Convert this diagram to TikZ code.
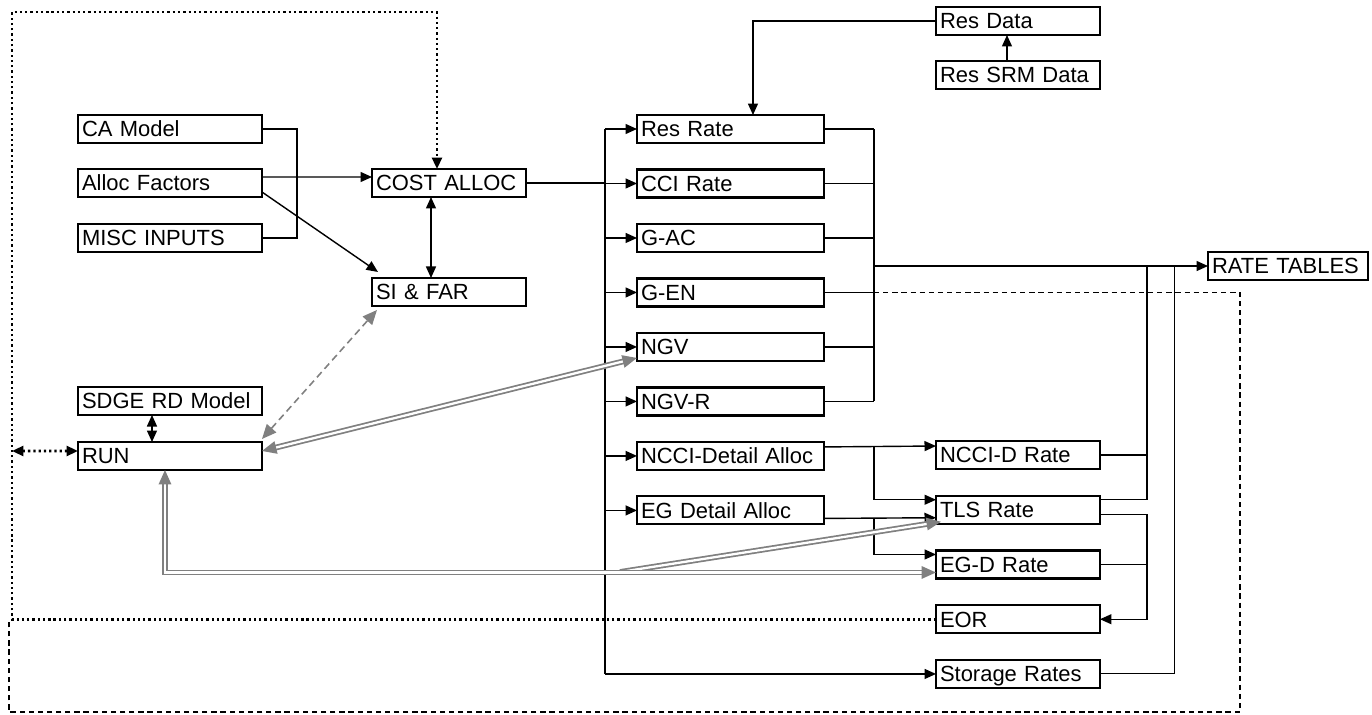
\documentclass[tikz,border=0pt]{standalone}
\usepackage{fontspec}
\setmainfont{Liberation Sans}
\usepackage{xcolor}
\usepackage{tikz}
\usetikzlibrary{arrows.meta,positioning,calc}

\tikzset{
  tipblack/.tip={Triangle[length=0.23cm, width=0.2cm]},
  feedtip/.tip={Triangle[length=0.29cm, width=0.25cm]}
}

\begin{document}
\begin{tikzpicture}[
    x=0.02cm, y=-0.02cm,
    box/.style={draw, rectangle, line width=1.2pt, outer sep=0pt, minimum height=0.56cm,
                inner xsep=0.08cm, inner ysep=0pt, text width=#1, align=left,
                text height=9pt, text depth=0pt, font=\fontsize{12.5}{14}\selectfont},
    box/.default=3.52cm,
    link/.style={line width=0.8pt},
    thinlink/.style={line width=0.6pt},
    arrow/.style={-tipblack, line width=0.8pt},
    twoway/.style={tipblack-tipblack, line width=0.8pt},
    loopline/.style={line width=1.5pt, dash pattern=on 1.3pt off 1.7pt},
    backline/.style={line width=0.8pt, dash pattern=on 3pt off 2.2pt},
    feed/.style={draw=gray, line width=1pt, double=white, double distance=1.3pt}
  ]
  \useasboundingbox (0,0) rectangle (1372,714);

  \node[box, anchor=north west] (ca) at (78,115) {CA Model};
  \node[box, below=0.52cm of ca] (alloc) {Alloc Factors};
  \node[box, below=0.54cm of alloc] (misc) {MISC INPUTS};
  \node[box, anchor=north west] (sdge) at (78,387) {SDGE RD Model};
  \node[box, below=0.54cm of sdge] (run) {RUN};

  \node[box=2.92cm, anchor=north west] (cost) at (372,169) {COST ALLOC};
  \node[box=2.92cm, below=1.62cm of cost] (sifar) {SI \& FAR};

  \node[box=3.58cm, anchor=north west] (res) at (637,115) {Res Rate};
  \node[box=3.58cm, below=0.53cm of res] (cci) {CCI Rate};
  \node[box=3.58cm, below=0.53cm of cci] (gac) {G-AC};
  \node[box=3.58cm, below=0.53cm of gac] (gen) {G-EN};
  \node[box=3.58cm, below=0.53cm of gen] (ngv) {NGV};
  \node[box=3.58cm, below=0.53cm of ngv] (ngvr) {NGV-R};
  \node[box=3.58cm, below=0.53cm of ngvr] (ncci) {NCCI-Detail Alloc};
  \node[box=3.58cm, below=0.53cm of ncci] (egdet) {EG Detail Alloc};

  \node[box=3.12cm, anchor=north west] (resdata) at (936,7) {Res Data};
  \node[box=3.12cm, below=0.52cm of resdata] (ressrm) {Res SRM Data};

  \node[box=3.12cm, anchor=north west] (nccid) at (936,441) {NCCI-D Rate};
  \node[box=3.12cm, below=0.535cm of nccid] (tls) {TLS Rate};
  \node[box=3.12cm, below=0.535cm of tls] (egd) {EG-D Rate};
  \node[box=3.12cm, below=0.535cm of egd] (eor) {EOR};
  \node[box=3.12cm, below=0.535cm of eor] (stor) {Storage Rates};

  \node[box=3.04cm, anchor=north west] (rt) at (1208,252) {RATE TABLES};

  \coordinate (loopL) at (12,12);
  \coordinate (busL) at ([xshift=-0.64cm]res.west);
  \coordinate (busR) at ([xshift=1cm]res.east);
  \coordinate (busT) at ([xshift=0.94cm]nccid.east);
  \coordinate (busS) at ([xshift=1.5cm]nccid.east);
  \coordinate (dashR) at (1240,712);
  \coordinate (dashL) at (9,712);
  \coordinate (gsplit) at (620,572);

  \draw[link] (ca.east) -- ++(35,0) |- (misc.east);
  \draw[arrow] ([yshift=0.12cm]alloc.east) -- ([yshift=0.12cm]cost.west);
  \draw[arrow] ([yshift=-0.18cm]alloc.east) -- ([xshift=0.12cm,yshift=0.12cm]sifar.north west);
  \draw[twoway] ([xshift=-0.36cm]cost.south) -- ([xshift=-0.36cm]sifar.north);
  \draw[twoway] ([xshift=-0.36cm]sdge.south) -- ([xshift=-0.36cm]run.north);

  \draw[link] (cost.east) -- (cost.east -| busL);
  \draw[thinlink] (busL |- res.west) -- (busL |- stor.west);
  \foreach \n in {res,cci,gac,gen,ngv,ngvr,ncci,egdet,stor}
    \draw[arrow] (busL |- \n.west) -- (\n.west);
  \foreach \n in {res,cci,gac,gen,ngv,ngvr}
    \draw[link] (\n.east) -- (\n.east -| busR);
  \draw[link] (busR |- res.east) -- (busR |- ngvr.east);
  \draw[arrow] (busR |- rt.west) -- (rt.west);

  \draw[arrow] (resdata.west) -| ([xshift=0.45cm]res.north);
  \draw[arrow] ([xshift=-0.22cm]ressrm.north) -- ([xshift=-0.22cm]resdata.south);

  \draw[arrow] ([yshift=0.18cm]ncci.east) -- ([yshift=0.18cm]nccid.west);
  \draw[arrow] ($(ncci.east -| busR)+(0,-9)$) |- ([yshift=0.2cm]tls.west);
  \draw[arrow] ([yshift=-0.16cm]egdet.east) -- ([yshift=-0.16cm]tls.west);
  \draw[arrow] ($(egdet.east -| busR)+(0,8)$) |- ([yshift=0.2cm]egd.west);

  \draw[link] (nccid.east) -- (nccid.east -| busT);
  \draw[link] ([yshift=0.2cm]tls.east) -| (busT |- rt.west);
  \draw[arrow] ([yshift=-0.1cm]tls.east) -- ++(47,0) |- (eor.east);
  \draw[link] (egd.east) -- (egd.east -| busT);
  \draw[thinlink] (stor.east) -| (busS |- rt.west);

  \draw[loopline, -tipblack] (eor.west) -| (loopL) -| ([xshift=-0.24cm]cost.north);
  \draw[loopline, tipblack-tipblack] ([yshift=0.1cm]run.west) -- ($(run.west -| loopL)+(0,-5)$);
  \draw[backline] (gen.east -| busR) -| (dashR) -- (dashL) -- (dashL |- eor.west);

  \draw[feed, feedtip-feedtip] ([yshift=0.1cm]run.east) -- ([yshift=0.06cm]ngv.south west);
  \draw[gray, line width=0.9pt, dash pattern=on 4pt off 2.5pt, feedtip-feedtip]
    ([yshift=0.06cm]run.north east) -- ([xshift=0.1cm,yshift=-0.08cm]sifar.south west);
  \draw[feed, -feedtip] (gsplit) -- ([xshift=0.1cm,yshift=0.04cm]tls.south west);
  \draw[feed, feedtip-feedtip] ([xshift=-0.1cm]run.south) |- ([yshift=-0.16cm]egd.west);
\end{tikzpicture}
\end{document}
